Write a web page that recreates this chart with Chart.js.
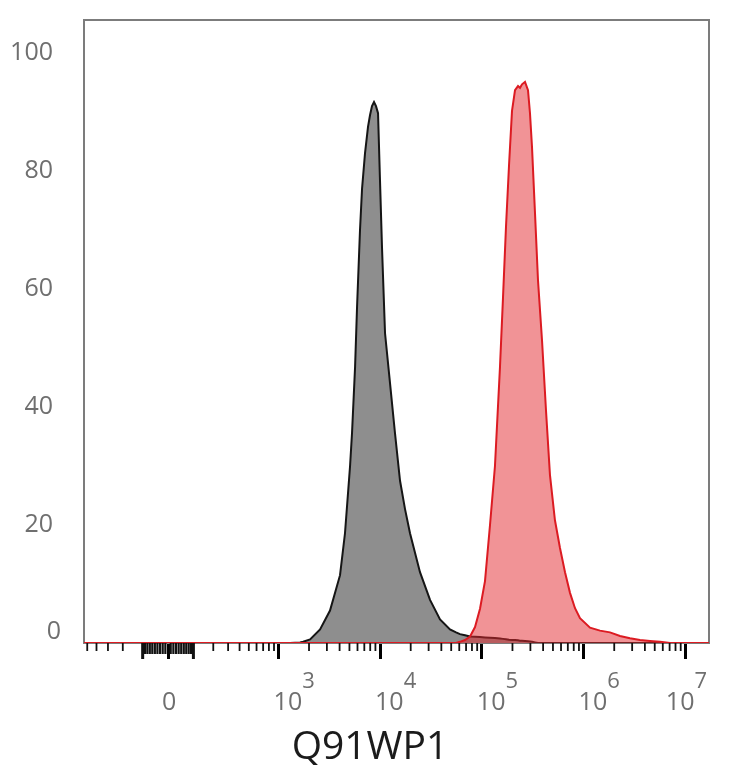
<!DOCTYPE html>
<html>
<head>
<meta charset="utf-8">
<script src="https://cdn.jsdelivr.net/npm/chart.js@4.4.1/dist/chart.umd.min.js"></script>
<style>
  html, body { margin: 0; padding: 0; background: #fff; }
  #wrap { width: 734px; height: 768px; }
</style>
</head>
<body>
<div id="wrap"><canvas id="hist" width="734" height="768"></canvas></div>
<script>
// fluorescence intensity (bin centres) shared by both histograms
const intensity = [
  -540, 130, 1300, 1630, 1750, 2050, 2570, 3220, 4040, 4520,
  5070, 5300, 5680, 5940, 6350, 6650, 7110, 7610, 7970, 8330,
  8720, 9120, 9550, 9980, 10450, 11190, 12530, 14030, 15710, 17590,
  19690, 24680, 30970, 38830, 48680, 55780, 61030, 68340, 76560, 85720,
  95950, 107400, 120300, 134600, 150800, 161400, 172700, 184900, 197900, 211900,
  226800, 237200, 248200, 265600, 284300, 297300, 311100, 332900, 356300, 390000,
  426800, 467100, 523000, 586100, 656700, 735100, 823300, 921500, 1156000, 1449000,
  1817000, 2279000, 2856000, 3583000, 4492000, 5633000, 7062000, 11100000, 17070000
];
// isotype / unstained control (grey), % of max
const controlCounts = [
  0, 0, 0, 0.1, 0.2, 0.6, 2.3, 5.5, 11.5, 18.6,
  30, 35.6, 46.8, 57, 70, 77, 83, 87.5, 89.5, 91,
  91.7, 91, 89.8, 78.5, 67, 52.5, 44, 35.5, 27.5, 22.7,
  18.6, 12, 7.3, 4, 2.3, 1.8, 1.5, 1.3, 1.1, 1.05,
  1.0, 0.95, 0.9, 0.85, 0.75, 0.7, 0.65, 0.55, 0.5, 0.5,
  0.45, 0.4, 0.4, 0.35, 0.3, 0.25, 0.2, 0.1, 0, 0,
  0, 0, 0, 0, 0, 0, 0, 0, 0, 0,
  0, 0, 0, 0, 0, 0, 0, 0, 0
];
// Q91WP1 stained sample (red), % of max
const stainedCounts = [
  0, 0, 0, 0, 0, 0, 0, 0, 0, 0,
  0, 0, 0, 0, 0, 0, 0, 0, 0, 0,
  0, 0, 0, 0, 0, 0, 0, 0, 0, 0,
  0, 0, 0, 0, 0, 0, 0.2, 0.5, 1.1, 2.7,
  5.8, 10.5, 20, 30, 46.8, 58.5, 70.5, 80.9, 90.2, 93.7,
  94.4, 94.1, 94.7, 95.1, 93.7, 89.8, 84.1, 72.9, 61.5, 51.4,
  39.5, 28.5, 20.8, 16.1, 12, 8.5, 5.9, 4.2, 2.6, 2.1,
  1.8, 1.2, 0.8, 0.5, 0.35, 0.2, 0, 0, 0
];
const xMajorTicks = [0, 1e3, 1e4, 1e5, 1e6, 1e7];
const xTickExponents = [null, 3, 4, 5, 6, 7];
const yTicks = [0, 20, 40, 60, 80, 100];
const xTitle = "Q91WP1";

const X_MIN = -540, X_MAX = 1.707e7;
const Y_MAX = 105.6;
const LIN_WIDTH = 165; // width of the linear region around zero

// biexponential-like display transform (arcsinh)
function biex(v) { return Math.asinh(v / LIN_WIDTH); }
function biexInv(t) { return Math.sinh(t) * LIN_WIDTH; }

class BiexScale extends Chart.LinearScale {
  buildTicks() {
    return xMajorTicks.map(v => ({ value: v }));
  }
  configure() {
    super.configure();
    this._tMin = biex(this.min);
    this._tMax = biex(this.max);
  }
  getPixelForValue(value) {
    if (value === null || isNaN(value)) return NaN;
    return this.getPixelForDecimal((biex(value) - this._tMin) / (this._tMax - this._tMin));
  }
  getValueForPixel(pixel) {
    return biexInv(this._tMin + this.getDecimalForPixel(pixel) * (this._tMax - this._tMin));
  }
}
BiexScale.id = "biex";
BiexScale.defaults = { ticks: { callback: () => "" } };
Chart.register(BiexScale);

// minor tick values: 10s near zero, then 2..9 of every decade
function minorTickValues() {
  const out = [];
  for (let v = 10; v < 100; v += 10) { out.push(v, -v); }
  for (let v = 100; v < 1000; v += 100) { out.push(v, -v); }
  for (let d = 1e3; d < 1e7; d *= 10) {
    for (let k = 2; k <= 9; k++) out.push(k * d);
  }
  return out;
}

const LABEL_COLOR = "#6f6f6f";
const FONT = "'Open Sans', sans-serif";

const axisDecor = {
  id: "axisDecor",
  beforeDatasetsDraw(chart) {
    const { ctx, chartArea: a } = chart;
    ctx.save();
    ctx.strokeStyle = "#7c7c7c";
    ctx.lineWidth = 2;
    ctx.strokeRect(a.left, a.top, a.right - a.left, a.bottom - a.top);
    ctx.restore();
  },
  afterDraw(chart) {
    const { ctx, chartArea: a } = chart;
    const xs = chart.scales.x, ys = chart.scales.y;
    const base = a.bottom;
    ctx.save();
    // minor ticks
    ctx.strokeStyle = "#111";
    minorTickValues().forEach(v => {
      if (v < xs.min || v > xs.max) return;
      const px = xs.getPixelForValue(v);
      let len = 8, lw = 1.8;
      if (Math.abs(v) === 100) { len = 16; lw = 3; }
      else if (Math.abs(v) < 100) { len = 11; lw = 2.2; }
      ctx.lineWidth = lw;
      ctx.beginPath();
      ctx.moveTo(px, base);
      ctx.lineTo(px, base + len);
      ctx.stroke();
    });

    // x tick labels (10 with superscript exponent)
    ctx.fillStyle = LABEL_COLOR;
    ctx.textBaseline = "alphabetic";
    xMajorTicks.forEach((v, i) => {
      const px = xs.getPixelForValue(v);
      const exp = xTickExponents[i];
      if (exp === null) {
        ctx.font = "25px " + FONT;
        ctx.textAlign = "center";
        ctx.fillText("0", px + 1, 710);
        return;
      }
      ctx.textAlign = "left";
      ctx.font = "25px " + FONT;
      const wBase = ctx.measureText("10").width;
      ctx.font = "22px " + FONT;
      const wExp = ctx.measureText(String(exp)).width;
      let x0 = px - 5;
      if (x0 + wBase + wExp > a.right - 2) x0 = a.right - 2 - wBase - wExp;
      ctx.font = "25px " + FONT;
      ctx.fillText("10", x0, 710);
      ctx.font = "22px " + FONT;
      ctx.fillText(String(exp), x0 + wBase, 688);
    });

    // y "0" label sits a bit above the baseline
    ctx.font = "25px " + FONT;
    ctx.textAlign = "right";
    ctx.textBaseline = "middle";
    ctx.fillText("0", a.left - 23, ys.getPixelForValue(0) - 11);

    // axis title
    ctx.fillStyle = "#1b1b1b";
    ctx.font = "39px " + FONT;
    ctx.textAlign = "center";
    ctx.textBaseline = "alphabetic";
    ctx.fillText(xTitle, 370, 759);
    ctx.restore();
  }
};

new Chart(document.getElementById("hist"), {
  type: "line",
  data: {
    datasets: [
      {
        label: "Q91WP1",
        data: intensity.map((x, i) => ({ x, y: stainedCounts[i] })),
        borderColor: "#dc1b22",
        backgroundColor: "rgba(228, 40, 45, 0.5)",
        borderWidth: 2,
        fill: "origin",
        pointRadius: 0,
        tension: 0,
        order: 1
      },
      {
        label: "Control",
        data: intensity.map((x, i) => ({ x, y: controlCounts[i] })),
        borderColor: "#151515",
        backgroundColor: "#8e8e8e",
        borderWidth: 2,
        fill: "origin",
        pointRadius: 0,
        tension: 0,
        order: 2
      }
    ]
  },
  options: {
    responsive: false,
    animation: false,
    layout: { padding: { top: 20, right: 25, left: 0, bottom: 0 } },
    plugins: { legend: { display: false }, tooltip: { enabled: false } },
    scales: {
      x: {
        type: "biex",
        min: X_MIN,
        max: X_MAX,
        ticks: { display: false },
        grid: { display: true, drawOnChartArea: false, drawTicks: true, tickLength: 16, tickWidth: 3, tickColor: "#000" },
        border: { display: false },
        afterFit: s => { s.height = 125; s.paddingLeft = 0; s.paddingRight = 0; }
      },
      y: {
        min: 0,
        max: Y_MAX,
        afterBuildTicks: s => { s.ticks = yTicks.map(v => ({ value: v })); },
        ticks: {
          padding: 23,
          color: LABEL_COLOR,
          font: { family: FONT, size: 25 },
          callback: v => (v === 0 ? "" : String(v))
        },
        grid: { display: false },
        border: { display: false },
        afterFit: s => { s.width = 84; s.paddingTop = 0; s.paddingBottom = 0; }
      }
    }
  },
  plugins: [axisDecor]
});
</script>
</body>
</html>
